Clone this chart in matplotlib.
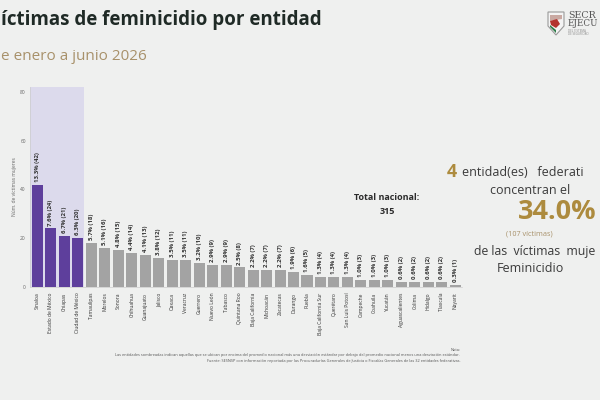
import numpy as np
import matplotlib.pyplot as plt
from matplotlib.patches import Rectangle, Polygon

entidades = ["Sinaloa", "Estado de México", "Chiapas", "Ciudad de México", "Tamaulipas",
             "Morelos", "Sonora", "Chihuahua", "Guanajuato", "Jalisco", "Oaxaca", "Veracruz",
             "Guerrero", "Nuevo León", "Tabasco", "Quintana Roo", "Baja California",
             "Michoacán", "Zacatecas", "Durango", "Puebla", "Baja California Sur",
             "Querétaro", "San Luis Potosí", "Campeche", "Coahuila", "Yucatán",
             "Aguascalientes", "Colima", "Hidalgo", "Tlaxcala", "Nayarit"]
victimas = [42, 24, 21, 20, 18, 16, 15, 14, 13, 12, 11, 11, 10, 9, 9, 8, 7, 7, 7, 6, 5,
            4, 4, 4, 3, 3, 3, 2, 2, 2, 2, 1]
porcentajes = [13.3, 7.6, 6.7, 6.3, 5.7, 5.1, 4.8, 4.4, 4.1, 3.8, 3.5, 3.5, 3.2, 2.9, 2.9,
               2.5, 2.2, 2.2, 2.2, 1.9, 1.6, 1.3, 1.3, 1.3, 1.0, 1.0, 1.0, 0.6, 0.6, 0.6,
               0.6, 0.3]
n_dest = 4
total = 315
y_ticks = [0, 20, 40, 60, 80]

bg = "#eff0ef"
morado = "#5e3f9c"
gris = "#a3a3a3"
oro = "#ad8b3e"

plt.rcParams['font.family'] = ['Open Sans', 'DejaVu Sans']

fig = plt.figure(figsize=(6, 4), dpi=100, facecolor=bg)

def px(x, y):
    return x / 600, 1 - y / 400

ax = fig.add_axes([30 / 600, 1 - 287 / 400, 432 / 600, 200 / 400])
ax.set_facecolor("none")
x = np.arange(len(entidades))
ax.add_patch(Rectangle((-0.55, 0), n_dest, 82, facecolor="#dcdaec",
                       edgecolor="none", zorder=0))
colores = [morado if i < n_dest else gris for i in range(len(entidades))]
ax.bar(x, victimas, width=0.82, color=colores, zorder=2)
for i, (v, p) in enumerate(zip(victimas, porcentajes)):
    ax.text(i, v + 1.2, f"{p:.1f}% ({v})", rotation=90, ha="center", va="bottom",
            fontsize=4.3, fontweight="bold", color="#333333")
ax.set_xlim(-0.55, 31.5)
ax.set_ylim(0, 82)
ax.set_yticks(y_ticks)
ax.tick_params(axis="y", labelsize=3.5, colors="#666666", length=0, pad=3)
ax.set_xticks(x)
ax.set_xticklabels(entidades, rotation=90, fontsize=3.6, color="#333333")
ax.tick_params(axis="x", length=0, pad=4)
ax.set_ylabel("Núm. de víctimas mujeres", fontsize=3.5, color="#666666", labelpad=2)
for s in ["top", "right"]:
    ax.spines[s].set_visible(False)
ax.spines["left"].set_color("#cccccc")
ax.spines["left"].set_linewidth(0.5)
ax.spines["bottom"].set_color("#cccccc")
ax.spines["bottom"].set_linewidth(0.5)

# titulos (la diapositiva aparece recortada por la izquierda)
fig.text(*px(1, 20), "íctimas de feminicidio por entidad", fontsize=13.5, fontweight="bold",
         color="#1f2a26", va="center", ha="left")
fig.text(*px(1, 56), "e enero a junio 2026", fontsize=11, color="#a8916a",
         va="center", ha="left")

# total nacional
fig.text(*px(387, 198), "Total nacional:", fontsize=6.5, fontweight="bold",
         color="#2b2b2b", ha="center", va="center")
fig.text(*px(387, 212), str(total), fontsize=6.5, fontweight="bold",
         color="#2b2b2b", ha="center", va="center")

# bloque derecho (recortado por la derecha)
fig.text(*px(447, 172), str(n_dest), fontsize=13, fontweight="bold", color=oro,
         ha="left", va="center")
fig.text(*px(462, 173), "entidad(es)   federati", fontsize=9, color="#3a3a3a",
         ha="left", va="center")
fig.text(*px(530, 191), "concentran el", fontsize=9, color="#3a3a3a",
         ha="center", va="center")
pct = sum(victimas[:n_dest]) / total * 100
fig.text(*px(557, 212), f"{pct:.1f}%", fontsize=19.5, fontweight="bold", color=oro,
         ha="center", va="center")
fig.text(*px(529, 234), f"({sum(victimas[:n_dest])} víctimas)", fontsize=5.2,
         color="#a8916a", ha="center", va="center")
fig.text(*px(474, 252), "de las  víctimas  muje", fontsize=8.8, color="#3a3a3a",
         ha="left", va="center")
fig.text(*px(530, 268), "Feminicidio", fontsize=9, color="#3a3a3a",
         ha="center", va="center")

# nota
fig.text(*px(460, 350), "Nota:", fontsize=2.8, color="#555555", ha="right", va="center")
fig.text(*px(460, 355), "Las entidades sombreadas indican aquellas que se ubican por encima del promedio "
         "nacional más una desviación estándar por debajo del promedio nacional menos una desviación estándar.",
         fontsize=2.8, color="#555555", ha="right", va="center")
fig.text(*px(460, 361), "Fuente: SESNSP con información reportada por las Procuradurías Generales de "
         "Justicia o Fiscalías Generales de las 32 entidades federativas.",
         fontsize=2.8, color="#555555", ha="right", va="center")

# logo
lx = fig.add_axes([0, 0, 1, 1], facecolor="none")
lx.set_xlim(0, 600)
lx.set_ylim(400, 0)
lx.axis("off")
lx.add_patch(Polygon([(548, 12), (564, 12), (564, 26), (556, 35), (548, 26)],
                     closed=True, facecolor="#f4f4f4", edgecolor="#9a9a9a", lw=0.8))
lx.add_patch(Polygon([(550, 15), (562, 15), (562, 19), (550, 21)], closed=True,
                     facecolor="#c9a9a2", edgecolor="none"))
lx.add_patch(Polygon([(550, 21), (557, 19), (560, 24), (556, 28), (551, 25)], closed=True,
                     facecolor="#b3342e", edgecolor="none"))
lx.add_patch(Polygon([(550, 25), (556, 30), (556, 33), (550, 27)], closed=True,
                     facecolor="#2f7d4a", edgecolor="none"))
fig.text(*px(568, 15), "SECR", fontsize=6.8, family="DejaVu Serif",
         color="#555555", ha="left", va="center")
fig.text(*px(568, 24), "EJECU", fontsize=6.3, family="DejaVu Serif",
         color="#555555", ha="left", va="center")
fig.text(*px(568, 31), "DEL SISTEMA", fontsize=2.2, color="#888888",
         ha="left", va="center")
fig.text(*px(568, 34), "DE SEGURIDAD", fontsize=2.2, color="#888888",
         ha="left", va="center")

fig.savefig("out.png", dpi=100, facecolor=bg)
